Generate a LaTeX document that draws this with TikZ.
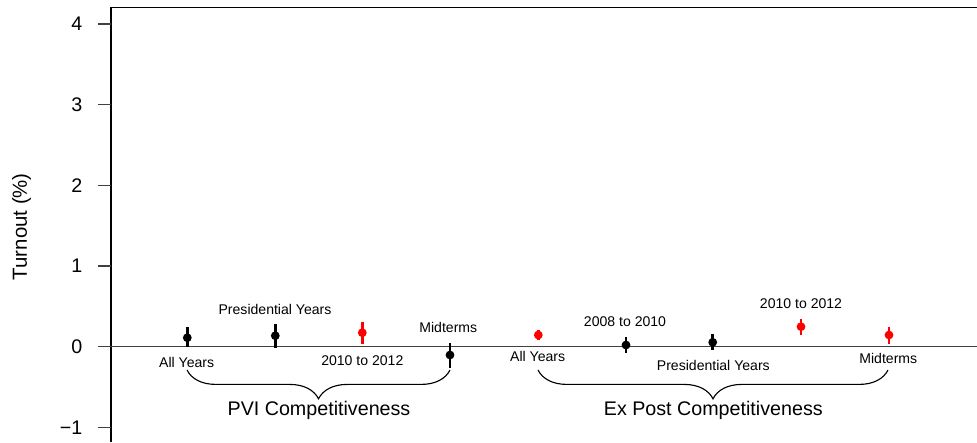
\documentclass[tikz,border=0pt]{standalone}
\usepackage{fontspec}
\setmainfont{Liberation Sans}
\usetikzlibrary{decorations.pathreplacing}
\definecolor{axisgray}{gray}{0.25}
\tikzset{
  frame/.style={line width=0.9pt, black},
  tick/.style={line width=0.9pt, axisgray},
  ticklabel/.style={anchor=east, inner sep=0pt, xshift=-0.37cm, text=black, font=\fontsize{14}{16}\selectfont},
  errbar/.style={line width=1.9pt},
  ptlabel/.style={anchor=base, inner sep=0pt, font=\fontsize{10}{12}\selectfont},
  grouplabel/.style={anchor=base, inner sep=0pt, font=\fontsize{14}{16}\selectfont},
  groupbrace/.style={decorate, decoration={brace, mirror, amplitude=0.72cm}, line width=0.8pt}
}
\begin{document}
\begin{tikzpicture}[x=0.025cm, y=-0.025cm]
  \useasboundingbox (0,0) rectangle (977,442);
  % axis and frame
  \draw[frame] (111,442) -- (111,7.3) -- (977,7.3);
  \draw[tick] (111,24) -- (97.7,24) node[ticklabel] (y4) {4};
  \draw[tick] (111,104.7) -- (97.7,104.7) node[ticklabel] (y3) {3};
  \draw[tick] (111,185.4) -- (97.7,185.4) node[ticklabel] (y2) {2};
  \draw[tick] (111,266) -- (97.7,266) node[ticklabel] (y1) {1};
  \draw[tick] (111,427.4) -- (97.7,427.4) node[ticklabel] (ym1) {−1};
  \draw[tick] (977,346.7) -- (97.7,346.7) node[ticklabel] (y0) {0};
  \node[rotate=90, font=\fontsize{14.5}{16}\selectfont] (ytitle) at (21.7,226.7) {Turnout (\%)};

  % PVI competitiveness
  \draw[errbar] (187.3,327.3) -- (187.3,347.3);
  \fill (187.3,337.7) circle [radius=0.11cm];
  \draw[errbar] (275.3,324.3) -- (275.3,347.7);
  \fill (275.3,335.7) circle [radius=0.11cm];
  \draw[errbar, red] (362.3,321.7) -- (362.3,344.3);
  \fill[red] (362.3,332.7) circle [radius=0.11cm];
  \draw[errbar] (450,343.3) -- (450,368.3);
  \fill (450,355) circle [radius=0.11cm];
  \node[ptlabel] (pviall) at (186.7,367.3) {All Years};
  \node[ptlabel] (pvipres) at (275,314) {Presidential Years};
  \node[ptlabel] (pvilate) at (362.3,365) {2010 to 2012};
  \node[ptlabel] (pvimid) at (448.3,332.7) {Midterms};
  \draw[groupbrace] (187,370) -- (450,370);
  \node[grouplabel] (pvi) at (319,415) {PVI Competitiveness};

  % ex post competitiveness
  \draw[errbar, red] (538.3,330) -- (538.3,340);
  \fill[red] (538.3,335) circle [radius=0.11cm];
  \draw[errbar] (626,337.3) -- (626,353.3);
  \fill (626,345) circle [radius=0.11cm];
  \draw[errbar] (712.7,334) -- (712.7,350);
  \fill (712.7,342.3) circle [radius=0.11cm];
  \draw[errbar, red] (801,319.3) -- (801,335);
  \fill[red] (801,326.7) circle [radius=0.11cm];
  \draw[errbar, red] (889,326.7) -- (889,344.3);
  \fill[red] (889,335) circle [radius=0.11cm];
  \node[ptlabel] (expall) at (537.7,361.7) {All Years};
  \node[ptlabel] (exearly) at (625,326.7) {2008 to 2010};
  \node[ptlabel] (expres) at (713.3,370.7) {Presidential Years};
  \node[ptlabel] (exlate) at (801,308.7) {2010 to 2012};
  \node[ptlabel] (exmid) at (888.3,363.3) {Midterms};
  \draw[groupbrace] (538,370) -- (888,370);
  \node[grouplabel] (expost) at (713.3,415) {Ex Post Competitiveness};
\end{tikzpicture}
\end{document}
